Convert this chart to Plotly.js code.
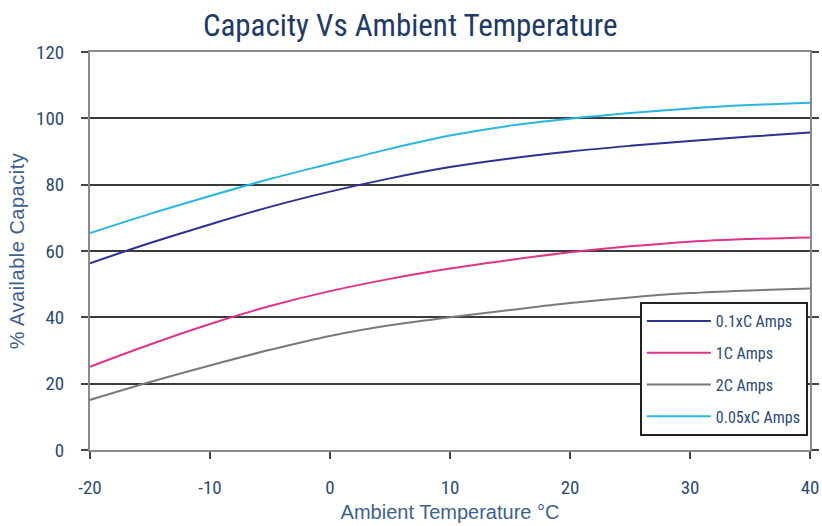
<!DOCTYPE html>
<html>
<head>
<meta charset="utf-8">
<script src="https://cdn.plot.ly/plotly-3.0.1.min.js"></script>
<style>
html,body{margin:0;padding:0;background:#fff;}
#chart{width:822px;height:526px;}
#chart .ytitle{letter-spacing:0.5px;}
</style>
</head>
<body>
<div id="chart"></div>
<script>
var temperatures = [-20, -15, -10, -5, 0, 5, 10, 15, 20, 25, 30, 35, 40];
var cap01C  = [56.3, 62.4, 68.0, 73.3, 77.9, 81.9, 85.3, 87.9, 90.0, 91.7, 93.2, 94.5, 95.7];
var cap1C   = [25.1, 31.8, 38.0, 43.4, 47.9, 51.6, 54.7, 57.3, 59.6, 61.4, 62.8, 63.6, 64.1];
var cap2C   = [15.1, 20.5, 25.5, 30.2, 34.4, 37.6, 40.0, 42.2, 44.3, 46.0, 47.3, 48.1, 48.7];
var cap005C = [65.4, 71.2, 76.6, 81.7, 86.3, 90.8, 94.8, 97.8, 99.9, 101.6, 103.0, 104.0, 104.7];
var seriesNames = ['0.1xC Amps', '1C Amps', '2C Amps', '0.05xC Amps'];
var xTicks = [-20, -10, 0, 10, 20, 30, 40];
var yTicks = [0, 20, 40, 60, 80, 100, 120];

var NARROW = '"Liberation Sans Narrow", "Arial Narrow", "Roboto Condensed", "Liberation Sans", sans-serif';
var REG = '"Liberation Sans", Arial, sans-serif';
var TXT = '#2c4a78';
var colors = ['#2e3192', '#e0338a', '#7a7a7a', '#29b6e0'];
var ys = [cap01C, cap1C, cap2C, cap005C];

var traces = ys.map(function (y, i) {
  return {
    x: temperatures, y: y, name: seriesNames[i], type: 'scatter', mode: 'lines',
    legendgroup: 'g' + i,
    line: {color: colors[i], width: 2, shape: 'spline', smoothing: 1}
  };
});

var layout = {
  width: 822, height: 526,
  margin: {l: 90, r: 12, t: 52, b: 76},
  paper_bgcolor: '#ffffff', plot_bgcolor: '#ffffff',
  title: {text: 'Capacity Vs Ambient Temperature', x: 0.499, xanchor: 'center', y: 0.952, yanchor: 'middle',
          font: {family: NARROW, size: 31, color: '#1f3a66'}},
  xaxis: {
    range: [-20, 40], tickvals: xTicks, ticktext: xTicks.map(String),
    showgrid: false, zeroline: false,
    showline: true, linecolor: '#8a8a8a', linewidth: 2, mirror: true,
    ticks: 'outside', ticklen: 7, tickwidth: 2, tickcolor: '#444',
    ticklabelstandoff: 12,
    tickfont: {family: NARROW, size: 19, color: TXT},
    title: {text: 'Ambient Temperature °C', standoff: 7, font: {family: REG, size: 20, color: '#3f5f8f'}}
  },
  yaxis: {
    range: [0, 120], tickvals: yTicks, ticktext: yTicks.map(String),
    showgrid: true, gridcolor: '#3a3a3a', gridwidth: 1.8, zeroline: false,
    showline: true, linecolor: '#8a8a8a', linewidth: 2, mirror: 'ticks',
    ticks: 'outside', ticklen: 7, tickwidth: 2, tickcolor: '#444',
    ticklabelstandoff: 13,
    tickfont: {family: NARROW, size: 19, color: TXT},
    title: {text: '% Available Capacity', standoff: 6, font: {family: REG, size: 20, color: '#3f5f8f'}}
  },
  showlegend: true,
  legend: {
    x: 0.997, xanchor: 'right', y: 0.035, yanchor: 'bottom',
    bgcolor: '#ffffff', bordercolor: '#222', borderwidth: 2,
    font: {family: NARROW, size: 16, color: TXT},
    tracegroupgap: 8, itemwidth: 64, traceorder: 'grouped'
  }
};

Plotly.newPlot('chart', traces, layout, {displayModeBar: false, staticPlot: true});
</script>
</body>
</html>
